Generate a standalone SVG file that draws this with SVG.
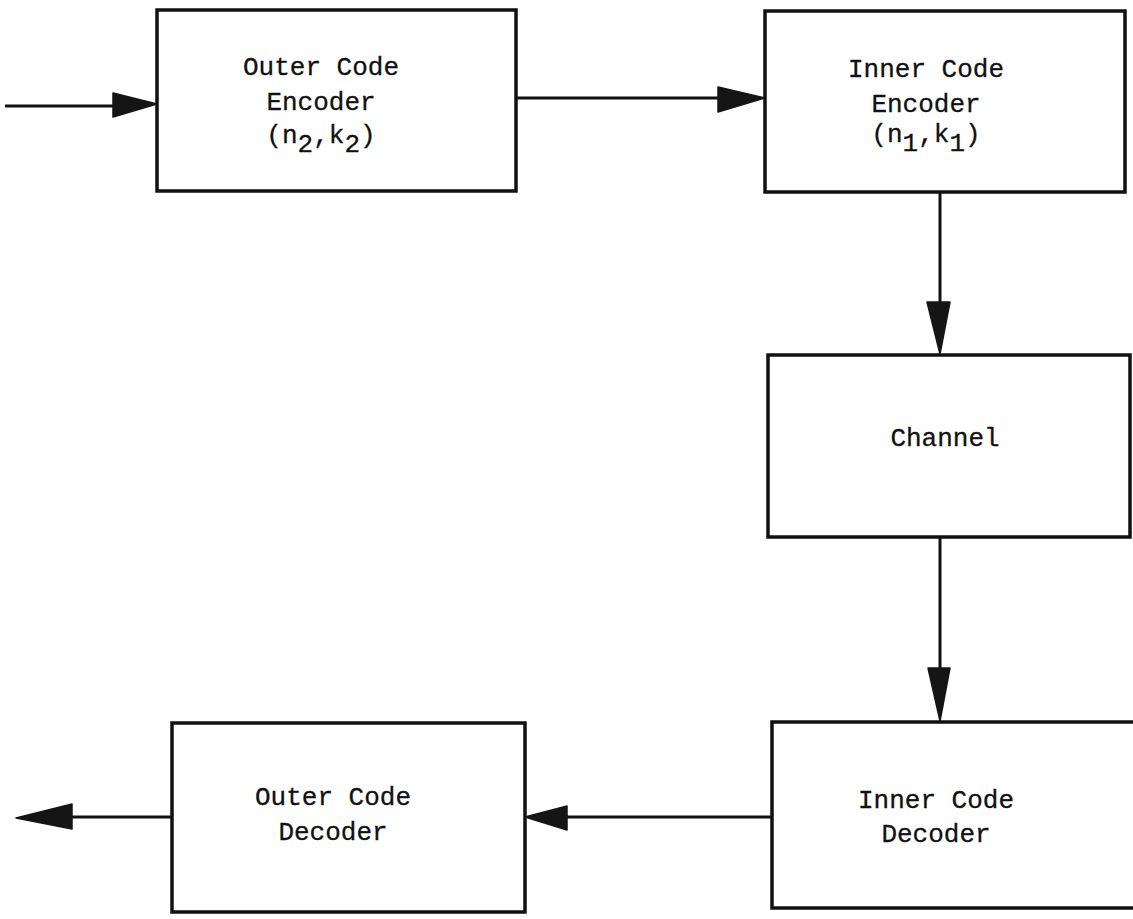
<svg xmlns="http://www.w3.org/2000/svg" width="1133" height="919" viewBox="0 0 1133 919">
<style>
.box{fill:#fff;stroke:#111;stroke-width:3.5}
.ln{stroke:#111;stroke-width:3;fill:none}
.ah{fill:#151515;stroke:#151515;stroke-width:1.5;stroke-linejoin:round}
text{font-family:"Liberation Mono","DejaVu Sans Mono",monospace;font-size:26px;fill:#111;stroke:#111;stroke-width:0.3;text-anchor:middle}
</style>
<rect width="1133" height="919" fill="#fff"/>
<g id="connectors">
<line class="ln" x1="5" y1="106" x2="120" y2="106"/>
<polygon class="ah" points="113,93 157,104 113,117"/>
<line class="ln" x1="516" y1="98" x2="725" y2="98"/>
<polygon class="ah" points="718,87 765,98 718,112"/>
<line class="ln" x1="940" y1="192" x2="940" y2="308"/>
<polygon class="ah" points="927,302 940,354 950,302"/>
<line class="ln" x1="940" y1="537" x2="940" y2="672"/>
<polygon class="ah" points="928,668 940,721 950,668"/>
<line class="ln" x1="772" y1="817" x2="560" y2="817"/>
<polygon class="ah" points="567,806 525,817 567,830"/>
<line class="ln" x1="172" y1="817" x2="65" y2="817"/>
<polygon class="ah" points="72,804 16,818 72,829"/>
</g>
<g id="outer-encoder">
<rect class="box" x="157" y="10" width="359" height="181"/>
<text x="321" y="75">Outer Code</text>
<text x="321" y="110">Encoder</text>
<text x="321" y="143">(n<tspan dy="9">2</tspan><tspan dy="-9">,k</tspan><tspan dy="9">2</tspan><tspan dy="-9">)</tspan></text>
</g>
<g id="inner-encoder">
<rect class="box" x="765" y="11" width="360" height="181"/>
<text x="926" y="77">Inner Code</text>
<text x="926" y="112">Encoder</text>
<text x="926" y="142">(n<tspan dy="9">1</tspan><tspan dy="-9">,k</tspan><tspan dy="9">1</tspan><tspan dy="-9">)</tspan></text>
</g>
<g id="channel">
<rect class="box" x="768" y="355" width="362" height="182"/>
<text x="945" y="446">Channel</text>
</g>
<g id="inner-decoder">
<rect class="box" x="772" y="722" width="364" height="186"/>
<text x="936" y="808">Inner Code</text>
<text x="936" y="842">Decoder</text>
</g>
<g id="outer-decoder">
<rect class="box" x="172" y="723" width="353" height="189"/>
<text x="333" y="805">Outer Code</text>
<text x="333" y="840">Decoder</text>
</g>
</svg>
